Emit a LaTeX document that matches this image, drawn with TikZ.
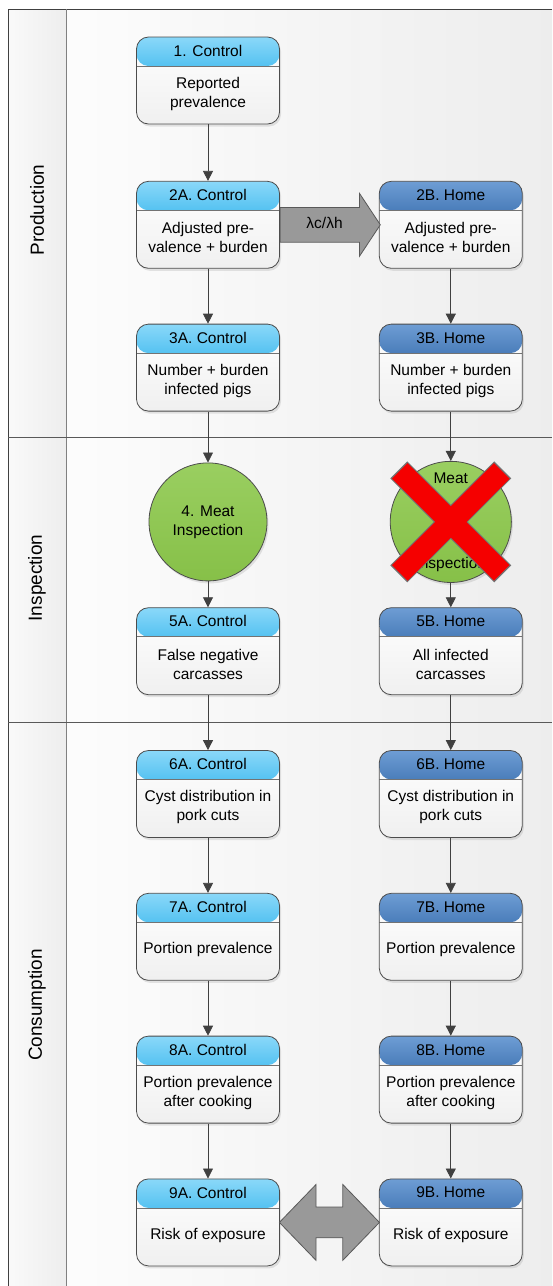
\documentclass[tikz,border=0pt]{standalone}
\usepackage{fontspec}
\setmainfont{Liberation Sans}
\usepackage{xcolor}
\usetikzlibrary{positioning, arrows.meta, shapes.arrows, shadows, calc}

\definecolor{ctrltop}{HTML}{8AD8F9}
\definecolor{ctrlbot}{HTML}{55C2F1}
\definecolor{hometop}{HTML}{6E9DD4}
\definecolor{homebot}{HTML}{4A7DBA}
\definecolor{meatgreen}{HTML}{8CC84B}
\definecolor{xred}{HTML}{F50000}

\begin{document}
\begin{tikzpicture}[
    x=1pt, y=-1pt,
    font=\fontsize{15.5}{19}\selectfont,
    procbox/.style 2 args={
        draw=black!70, line width=0.8pt, rounded corners=12pt,
        minimum width=143pt, minimum height=87pt, inner sep=0pt,
        drop shadow={shadow xshift=1.5pt, shadow yshift=-2.5pt, opacity=0.2},
        path picture={
            \shade[top color=white, bottom color=black!6]
                (path picture bounding box.south west) rectangle (path picture bounding box.north east);
            \shade[top color=#1, bottom color=#2]
                (path picture bounding box.north west) rectangle ([yshift=-29pt]path picture bounding box.north east);
            \draw[black!55, line width=0.6pt]
                ([yshift=-29pt]path picture bounding box.north west) -- ([yshift=-29pt]path picture bounding box.north east);
        },
    },
    ctrlbox/.style={procbox={ctrltop}{ctrlbot}},
    homebox/.style={procbox={hometop}{homebot}},
    head/.style={align=center, inner sep=0pt},
    body/.style={align=center, inner sep=0pt},
    meat/.style={
        circle, draw=black!70, line width=0.8pt, minimum size=118pt, inner sep=0pt,
        top color=meatgreen!88!white, bottom color=meatgreen!96!black, align=center,
        drop shadow={shadow xshift=1.5pt, shadow yshift=-2.5pt, opacity=0.2},
    },
    flow/.style={draw=black!75, line width=0.8pt, -{Triangle[length=10pt, width=10pt]}},
    bigarrow/.style={
        single arrow, draw=black!65, fill=black!40, line width=0.8pt,
        single arrow head extend=14pt, single arrow tip angle=113,
        minimum height=100pt, inner xsep=0pt, inner ysep=10.5pt,
        text height=10pt, text depth=3pt,
    },
    dblarrow/.style={
        double arrow, draw=black!65, fill=black!40, line width=0.8pt,
        double arrow head extend=22.5pt, double arrow tip angle=92,
        minimum height=100pt, inner xsep=0pt, inner ysep=15pt,
        text height=0pt, text depth=0pt,
    },
    lane/.style={rotate=90, font=\fontsize{19}{23}\selectfont},
    laneline/.style={draw=black!50, line width=0.9pt},
]
\useasboundingbox (0,0) rectangle (552,1286);

% --- swimlanes ---
\shade[left color=black!2, right color=black!7] (8,9) rectangle (66,1286);
\shade[left color=black!1, right color=black!7] (66,9) rectangle (552,1286);
\draw[laneline, draw=black!75] (552,9) -- (8,9) -- (8,1286);
\draw[laneline] (66,9) -- (66,1286);
\draw[laneline, draw=black!65] (8,437) -- (552,437);
\draw[laneline, draw=black!65] (8,722) -- (552,722);
\node[lane] (lprod) at (37,210) {Production};
\node[lane] (linsp) at (37,578) {Inspection};
\node[lane] (lcons) at (37,1005) {Consumption};

% --- control chain ---
\node[ctrlbox] (c1) at (208,80.5) {};
\node[head] (c1t) at ([yshift=-14pt]c1.north) {1. Control};
\node[body] (c1b) at ([yshift=-57pt]c1.north) {Reported\\prevalence};

\node[ctrlbox, below=56.5pt of c1] (c2) {};
\node[head] (c2t) at ([yshift=-14pt]c2.north) {2A. Control};
\node[body] (c2b) at ([yshift=-57pt]c2.north) {Adjusted pre-\\valence + burden};

\node[ctrlbox, below=55pt of c2] (c3) {};
\node[head] (c3t) at ([yshift=-14pt]c3.north) {3A. Control};
\node[body] (c3b) at ([yshift=-57pt]c3.north) {Number + burden\\infected pigs};

\node[meat, below=51pt of c3] (m4a) {4. Meat\\Inspection};

\node[ctrlbox, below=26pt of m4a] (c5) {};
\node[head] (c5t) at ([yshift=-14pt]c5.north) {5A. Control};
\node[body] (c5b) at ([yshift=-57pt]c5.north) {False negative\\carcasses};

\node[ctrlbox, below=55pt of c5] (c6) {};
\node[head] (c6t) at ([yshift=-14pt]c6.north) {6A. Control};
\node[body] (c6b) at ([yshift=-57pt]c6.north) {Cyst distribution in\\pork cuts};

\node[ctrlbox, below=55pt of c6] (c7) {};
\node[head] (c7t) at ([yshift=-14pt]c7.north) {7A. Control};
\node[body] (c7b) at ([yshift=-57pt]c7.north) {Portion prevalence};

\node[ctrlbox, below=55pt of c7] (c8) {};
\node[head] (c8t) at ([yshift=-14pt]c8.north) {8A. Control};
\node[body] (c8b) at ([yshift=-57pt]c8.north) {Portion prevalence\\after cooking};

\node[ctrlbox, below=55pt of c8] (c9) {};
\node[head] (c9t) at ([yshift=-14pt]c9.north) {9A. Control};
\node[body] (c9b) at ([yshift=-57pt]c9.north) {Risk of exposure};

% --- home chain ---
\node[homebox, right=99pt of c2] (h2) {};
\node[head] (h2t) at ([yshift=-14pt]h2.north) {2B. Home};
\node[body] (h2b) at ([yshift=-57pt]h2.north) {Adjusted pre-\\valence + burden};

\node[homebox, right=99pt of c3] (h3) {};
\node[head] (h3t) at ([yshift=-14pt]h3.north) {3B. Home};
\node[body] (h3b) at ([yshift=-57pt]h3.north) {Number + burden\\infected pigs};

\node[meat] (m4b) at (h3 |- m4a) {Meat\\[66pt]Inspection};

\node[homebox, right=99pt of c5] (h5) {};
\node[head] (h5t) at ([yshift=-14pt]h5.north) {5B. Home};
\node[body] (h5b) at ([yshift=-57pt]h5.north) {All infected\\carcasses};

\node[homebox, right=99pt of c6] (h6) {};
\node[head] (h6t) at ([yshift=-14pt]h6.north) {6B. Home};
\node[body] (h6b) at ([yshift=-57pt]h6.north) {Cyst distribution in\\pork cuts};

\node[homebox, right=99pt of c7] (h7) {};
\node[head] (h7t) at ([yshift=-14pt]h7.north) {7B. Home};
\node[body] (h7b) at ([yshift=-57pt]h7.north) {Portion prevalence};

\node[homebox, right=99pt of c8] (h8) {};
\node[head] (h8t) at ([yshift=-14pt]h8.north) {8B. Home};
\node[body] (h8b) at ([yshift=-57pt]h8.north) {Portion prevalence\\after cooking};

\node[homebox, right=99pt of c9] (h9) {};
\node[head] (h9t) at ([yshift=-14pt]h9.north) {9B. Home};
\node[body] (h9b) at ([yshift=-57pt]h9.north) {Risk of exposure};

% --- crossed out inspection ---
\draw[black!55, line width=24pt]
    ([shift={(-52pt,-52pt)}]m4b.center) -- ([shift={(52pt,52pt)}]m4b.center);
\draw[black!55, line width=24pt]
    ([shift={(-52pt,52pt)}]m4b.center) -- ([shift={(52pt,-52pt)}]m4b.center);
\draw[xred, line width=22pt]
    ([shift={(-51pt,-51pt)}]m4b.center) -- ([shift={(51pt,51pt)}]m4b.center);
\draw[xred, line width=22pt]
    ([shift={(-51pt,51pt)}]m4b.center) -- ([shift={(51pt,-51pt)}]m4b.center);

% --- block arrows ---
\node[bigarrow, anchor=tail] (lam) at (c2.east) {λc/λh};
\node[dblarrow] (cmp) at ($(c9.east)!0.5!(h9.west)$) {};

% --- flow ---
\draw[flow] (c1) -- (c2);
\draw[flow] (c2) -- (c3);
\draw[flow] (c3) -- (m4a);
\draw[flow] (m4a) -- (c5);
\draw[flow] (c5) -- (c6);
\draw[flow] (c6) -- (c7);
\draw[flow] (c7) -- (c8);
\draw[flow] (c8) -- (c9);
\draw[flow] (h2) -- (h3);
\draw[flow] (h3) -- (m4b);
\draw[flow] (m4b) -- (h5);
\draw[flow] (h5) -- (h6);
\draw[flow] (h6) -- (h7);
\draw[flow] (h7) -- (h8);
\draw[flow] (h8) -- (h9);

\end{tikzpicture}
\end{document}
